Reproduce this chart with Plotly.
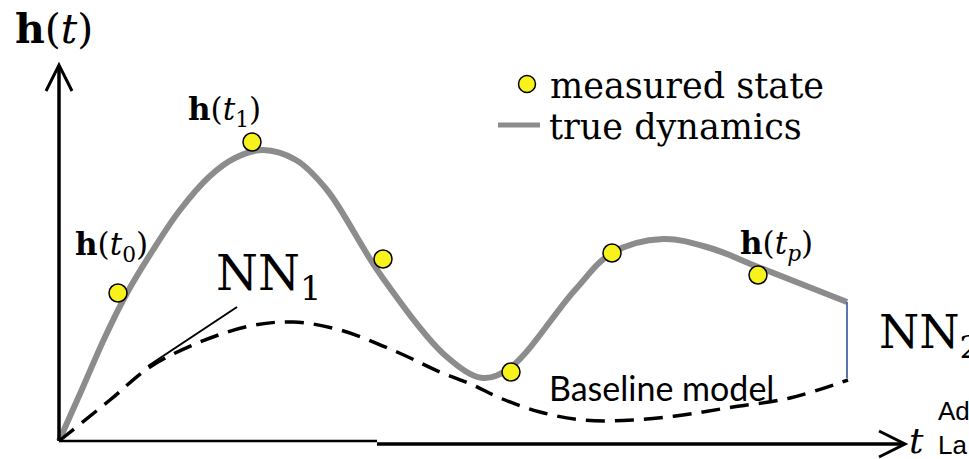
import plotly.graph_objects as go

# ---- data (t measured from the origin of the axes, h upward) ----
true_t = [0, 24, 46, 68, 94, 121, 151, 176, 204, 237, 268, 321, 388, 424, 452, 516, 553, 604, 651, 699, 788]
true_h = [0, 54, 104, 148, 191, 231, 265, 283, 291, 281, 251, 167, 84, 63, 74, 151, 188, 202, 193, 174, 139]

base_t = [0, 51, 91, 141, 191, 234, 281, 338, 381, 414, 441, 481, 524, 574, 624, 674, 731, 789]
base_h = [0, 41, 74, 99, 115, 119, 111, 89, 69, 56, 43, 29, 21, 21, 26, 34, 43, 61]

meas_t = [59, 193, 324, 452, 553, 699]
meas_h = [148, 299, 182, 69, 188, 166]

nn1_t = [89, 178]
nn1_h = [75, 134]

nn2_t = [788, 788]
nn2_h = [139, 63]

# axis extents
T_MAX = 846
H_MAX = 376
T_SPLIT = 318

GRAY = "#8c8c8c"
YELLOW = "#f7f21c"
SERIF = "DejaVu Serif"

fig = go.Figure()

# true dynamics
fig.add_trace(go.Scatter(x=true_t, y=true_h, mode="lines",
                         line=dict(color=GRAY, width=6, shape="spline", smoothing=1.0),
                         hoverinfo="skip", showlegend=False))
# baseline model
fig.add_trace(go.Scatter(x=base_t, y=base_h, mode="lines",
                         line=dict(color="black", width=3.5, dash="19px,10px",
                                   shape="spline", smoothing=1.0),
                         hoverinfo="skip", showlegend=False))
# NN1 tangent
fig.add_trace(go.Scatter(x=nn1_t, y=nn1_h, mode="lines",
                         line=dict(color="black", width=2),
                         hoverinfo="skip", showlegend=False))
# NN2 correction
fig.add_trace(go.Scatter(x=nn2_t, y=nn2_h, mode="lines",
                         line=dict(color="#2f5597", width=1.6),
                         hoverinfo="skip", showlegend=False))
# measured states
fig.add_trace(go.Scatter(x=meas_t, y=meas_h, mode="markers",
                         marker=dict(size=18, color=YELLOW,
                                     line=dict(color="black", width=1.5)),
                         hoverinfo="skip", showlegend=False))

# legend key
fig.add_trace(go.Scatter(x=[468], y=[357], mode="markers",
                         marker=dict(size=17, color=YELLOW,
                                     line=dict(color="black", width=1.5)),
                         hoverinfo="skip", showlegend=False))
fig.add_trace(go.Scatter(x=[439, 481], y=[316, 316], mode="lines",
                         line=dict(color=GRAY, width=5),
                         hoverinfo="skip", showlegend=False))

# axes with open arrow heads
shapes = []
shapes.append(dict(type="line", xref="x", yref="y", x0=0, y0=0, x1=0, y1=H_MAX - 2,
                   line=dict(color="black", width=3.5)))
shapes.append(dict(type="line", xref="x", yref="y", x0=0, y0=0, x1=T_SPLIT, y1=0,
                   line=dict(color="black", width=2.5)))
shapes.append(dict(type="line", xref="x", yref="y", x0=T_SPLIT, y0=-3, x1=T_MAX - 2, y1=-3,
                   line=dict(color="black", width=3.5)))
AH_L, AH_W = 26, 13
shapes.append(dict(type="path", xref="x", yref="y",
                   path=f"M {-AH_W},{H_MAX - AH_L} L 0,{H_MAX} L {AH_W},{H_MAX - AH_L}",
                   line=dict(color="black", width=3)))
shapes.append(dict(type="path", xref="x", yref="y",
                   path=f"M {T_MAX - AH_L},{-3 + AH_W} L {T_MAX},-3 L {T_MAX - AH_L},{-3 - AH_W}",
                   line=dict(color="black", width=3)))

ann = []


def label(x, y, text, size, family=SERIF, xanchor="center", color="black"):
    ann.append(dict(x=x, y=y, xref="x", yref="y", text=text, showarrow=False,
                    xanchor=xanchor, yanchor="middle",
                    font=dict(family=family, size=size, color=color)))


label(-5, 412, "<b>h</b>(<i>t</i>)", 41)
label(857, 1, "<i>t</i>", 36)
label(52, 195, "<b>h</b>(<i>t</i><sub>0</sub>)", 31)
label(165, 330, "<b>h</b>(<i>t</i><sub>1</sub>)", 31)
label(717, 196, "<b>h</b>(<i>t<sub>p</sub></i>)", 31)
label(155, 165, "NN<sub>1</sub>", 48, xanchor="left")
label(818, 106, "NN<sub>2</sub>", 46, xanchor="left")
label(489, 355, "measured state", 35, xanchor="left")
label(488, 314, "true dynamics", 35, xanchor="left")
label(488, 54, "Baseline model", 34, family="Lato", xanchor="left")
label(877, 30, "Ad", 26, family="Liberation Sans", xanchor="left")
label(877, -4, "La", 26, family="Liberation Sans", xanchor="left")

fig.update_layout(
    width=969, height=459,
    margin=dict(l=0, r=0, t=0, b=0),
    paper_bgcolor="white", plot_bgcolor="white",
    xaxis=dict(range=[-59, 910], visible=False, fixedrange=True),
    yaxis=dict(range=[-18, 441], visible=False, fixedrange=True),
    shapes=shapes, annotations=ann,
)

fig.write_html("out.html")
